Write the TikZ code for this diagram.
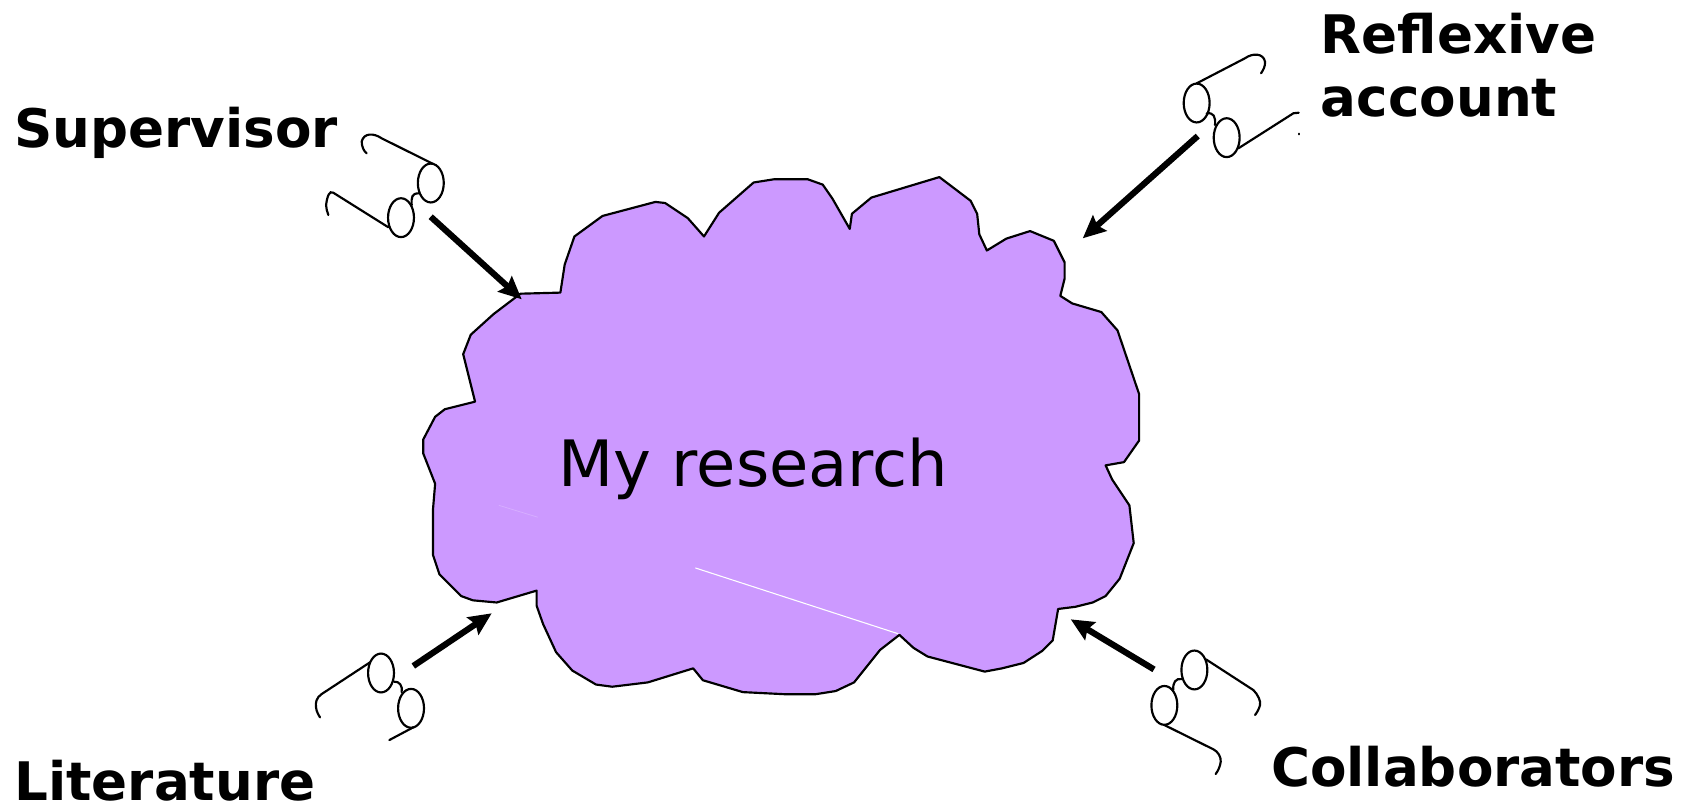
\documentclass[tikz,border=0pt]{standalone}
\usepackage{fontspec}
\setmainfont{DejaVu Sans}
\usetikzlibrary{arrows.meta}
\definecolor{cloudfill}{HTML}{CC99FF}
\tikzset{
  glassline/.style={line width=0.04cm, line cap=round},
  lookarrow/.style={line width=0.115cm, -{Stealth[length=0.42cm,width=0.38cm,inset=0.06cm]}},
  sourcelabel/.style={font=\fontsize{28}{32}\selectfont\bfseries, anchor=base west, inner sep=0pt, align=left}
}
\begin{document}
\begin{tikzpicture}[x=0.02cm,y=-0.02cm]
            \useasboundingbox (0,0) rectangle (1568,746.5);

            % Drawing the cloud
            \draw [fill=cloudfill, line width=0.04cm, line join=round] (482,272) -- (519,271) -- (523,245) -- (532,219) -- (558,200) -- (607,187) -- (616,188) -- (637,202) -- (652,219) -- (666,197) -- (698,169) -- (717,166) -- (748,166) -- (762,171) -- (771,184) -- (787,212) -- (789,198) -- (807,183) -- (870,164) -- (899,186) -- (905,198) -- (907,217) -- (914,232) -- (932,221) -- (954,214) -- (976,223) -- (986,243) -- (986,258) -- (982,274) -- (993,281) -- (1020,289) -- (1035,306) -- (1055,365) -- (1055,408) -- (1041,428) -- (1024,431) -- (1030,444) -- (1046,468) -- (1050,503) -- (1037,536) -- (1024,552) -- (1012,558) -- (996,562) -- (980,564) -- (975,593) -- (965,603) -- (948,614) -- (928,619) -- (912,622) -- (859,608) -- (846,600) -- (833,588) -- (815,602) -- (791,632) -- (774,640) -- (755,643) -- (728,643) -- (688,641) -- (651,630) -- (642,619) -- (600,632) -- (567,636) -- (552,634) -- (530,621) -- (515,604) -- (503,578) -- (497,561) -- (497,547) -- (460,558) -- (438,556) -- (427,552) -- (407,532) -- (401,514) -- (401,472) -- (403,448) -- (392,420) -- (392,407) -- (403,386) -- (412,379) -- (440,372) -- (429,328) -- (436,310) -- (457,291) -- cycle;

            % Drawing the white marks on the cloud
            \draw [white, line width=0.02cm] (644,526) -- (832,587);
            \draw [white!20!cloudfill, line width=0.015cm] (462,468) -- (498,479);

            % Writing the labels
            \node (research) [font=\fontsize{33.7}{40}\selectfont, anchor=base west, inner sep=0pt] at (517,451) {My research};
            \node (supervisor) [sourcelabel] at (13,137) {Supervisor};
            \node (reflexive) [sourcelabel] at (1223,108) {Reflexive\\[1.5pt]account};
            \node (literature) [sourcelabel] at (13,741) {Literature};
            \node (collaborators) [sourcelabel] at (1177,728) {Collaborators};

            % Drawing the glasses of the supervisor
            \draw [glassline] (399,169.5) ellipse [x radius=12, y radius=18];
            \draw [glassline] (371.4,201.6) ellipse [x radius=12, y radius=18];
            \draw [glassline] (388.1,179) .. controls (381,179) and (381,183) .. (381.3,189.9);
            \draw [glassline] (401.3,151.9) -- (353.5,128.1) .. controls (346,123) and (337,123) .. (335,131) .. controls (335,136) and (337,140) .. (339.6,142);
            \draw [glassline] (359.7,210.5) -- (308.7,178.5) .. controls (305,176) and (303,182) .. (302,189.9) .. controls (302,193) and (303,196) .. (304.1,199.1);

            % Drawing the glasses of the reflexive account
            \draw [glassline] (1108.3,95.4) ellipse [x radius=12, y radius=18];
            \draw [glassline] (1136.1,127.5) ellipse [x radius=12, y radius=18];
            \draw [glassline] (1117.6,105) .. controls (1124,104) and (1126,108) .. (1125.3,115.8);
            \draw [glassline] (1108.3,77.2) -- (1153,54) .. controls (1160,49) and (1170,49) .. (1171.6,57.1) .. controls (1172,61) and (1170,65) .. (1167.9,67.9);
            \draw [glassline] (1146.9,137.4) -- (1197.9,104.9) -- (1202.8,104.4);
            \draw [glassline] (1202.8,123.8) -- (1202.8,124.4);

            % Drawing the glasses of the literature
            \draw [glassline] (352.9,623.3) ellipse [x radius=12, y radius=18];
            \draw [glassline] (380.7,656) ellipse [x radius=12, y radius=18];
            \draw [glassline] (364.9,631.3) .. controls (370,631) and (373,635) .. (372,641);
            \draw [glassline] (342.7,613.4) -- (297.9,642.8) .. controls (293,646) and (292,651) .. (292.7,655) .. controls (293,659) and (295,662) .. (296.4,664.4);
            \draw [glassline] (382.8,673.6) -- (360.6,685.4);

            % Drawing the glasses of the collaborators
            \draw [glassline] (1106.2,620.5) ellipse [x radius=12, y radius=18];
            \draw [glassline] (1078.4,653.3) ellipse [x radius=12, y radius=18];
            \draw [glassline] (1094.4,628.9) .. controls (1089,628) and (1086,632) .. (1086.7,639);
            \draw [glassline] (1117,610.7) -- (1160.8,639.1) .. controls (1165,643) and (1168,650) .. (1167,653) .. controls (1166,657) and (1164,660) .. (1162.4,662.2);
            \draw [glassline] (1078.4,671.5) -- (1123.8,694) .. controls (1128,696) and (1131,701) .. (1130.6,705.5) .. controls (1130,710) and (1128,714) .. (1125.9,716.9);

            % Drawing the arrows
            \coordinate (supervisorfrom) at (398.9,200.7);
            \coordinate (supervisorto) at (483.2,277.2);
            \draw [lookarrow] (supervisorfrom) -- (supervisorto);
            \coordinate (reflexivefrom) at (1109.3,126);
            \coordinate (reflexiveto) at (1002.8,220.7);
            \draw [lookarrow] (reflexivefrom) -- (reflexiveto);
            \coordinate (literaturefrom) at (382.8,616.8);
            \coordinate (literatureto) at (455.4,568);
            \draw [lookarrow] (literaturefrom) -- (literatureto);
            \coordinate (collaboratorsfrom) at (1068.8,620);
            \coordinate (collaboratorsto) at (991.7,573.6);
            \draw [lookarrow] (collaboratorsfrom) -- (collaboratorsto);
\end{tikzpicture}
\end{document}
